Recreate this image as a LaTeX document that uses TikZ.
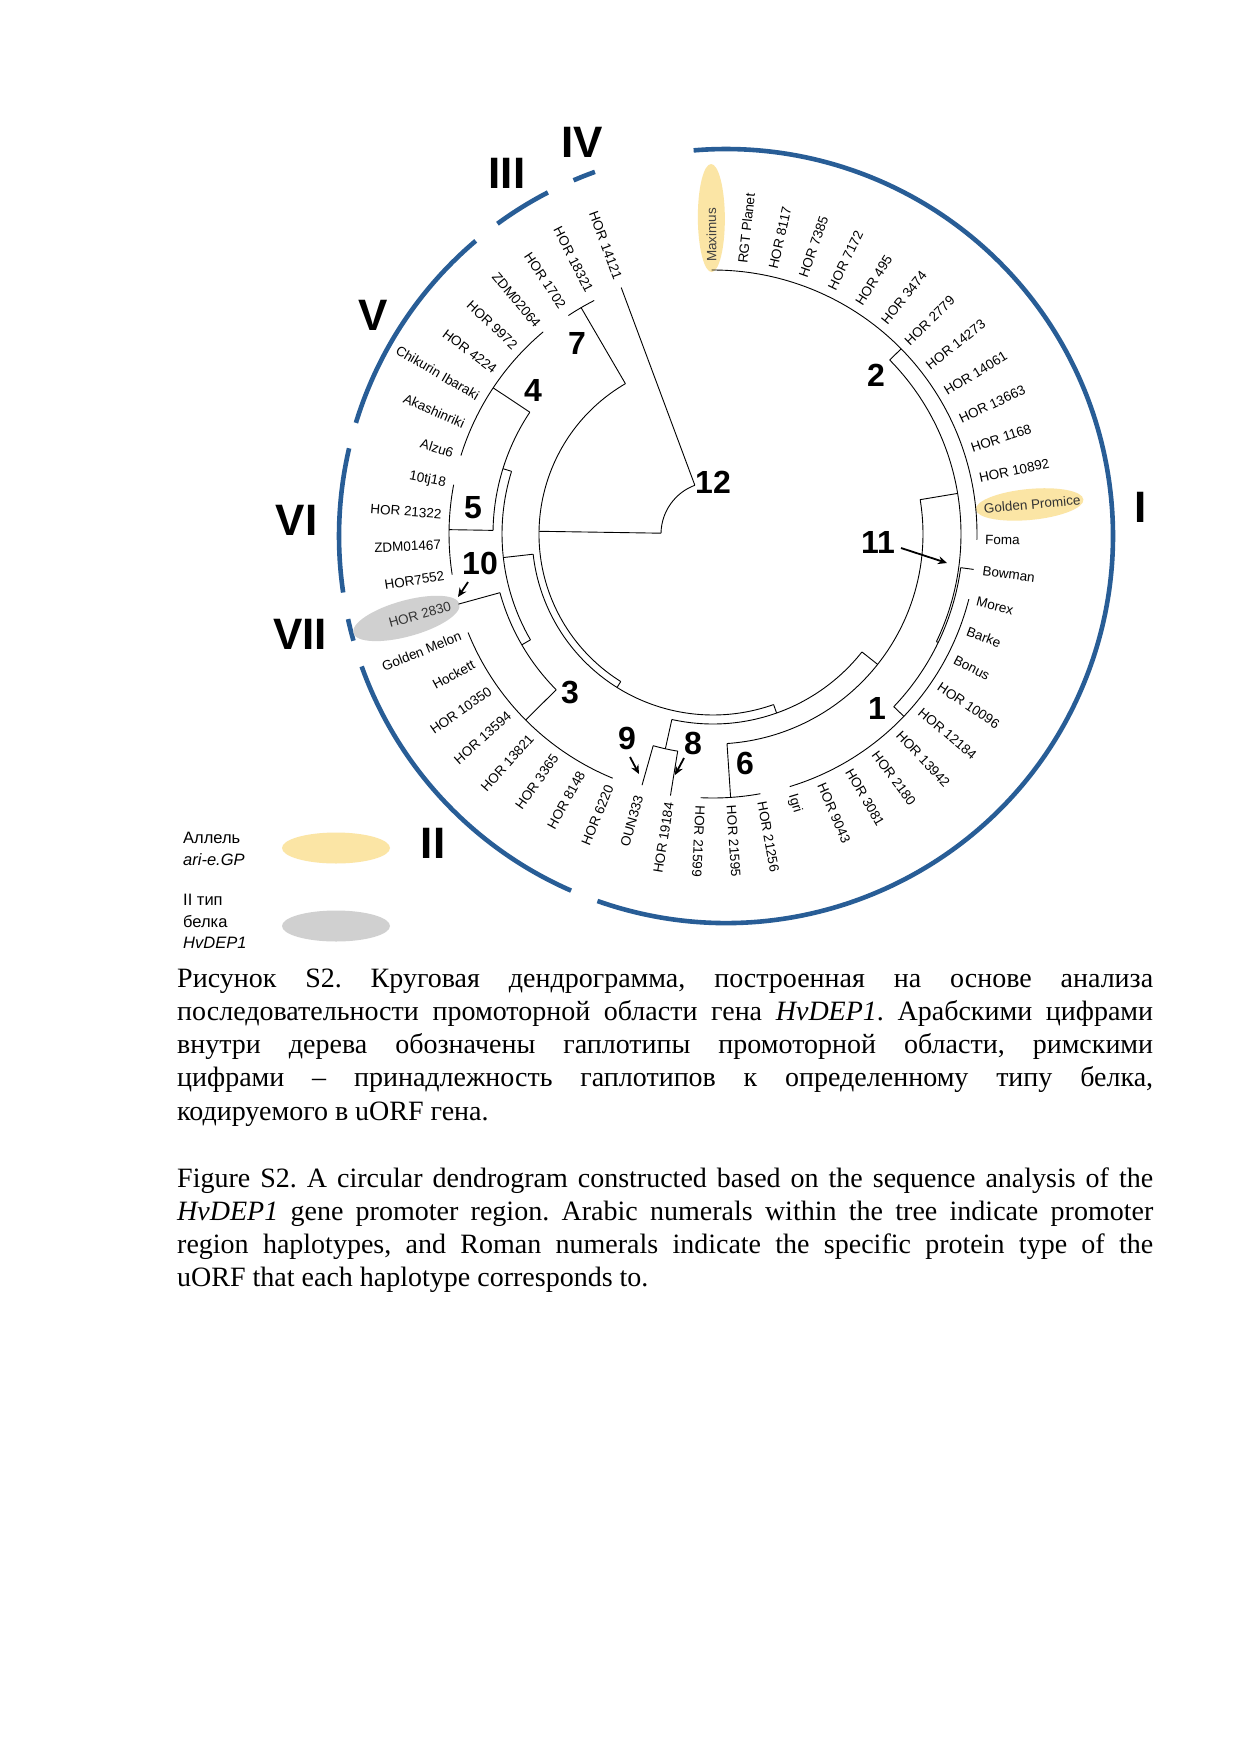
\documentclass[tikz,border=0pt]{standalone}
\usepackage{fontspec}
\setmainfont{Liberation Serif}
\setsansfont{Liberation Sans}
\newfontfamily\capf{Liberation Serif}
\usetikzlibrary{shapes.geometric,arrows.meta}
\definecolor{obl}{RGB}{40,93,150}
\definecolor{hly}{RGB}{251,229,165}
\definecolor{hlg}{RGB}{208,208,208}
\newcommand{\tarc}[3]{\draw[tree] ([shift={(#2:#1)}]C) arc[start angle=#2, end angle=#3, radius=#1];}
\newcommand{\trad}[3]{\draw[tree] ([shift={(#1:#2)}]C) -- ([shift={(#1:#3)}]C);}
\newcommand{\oarc}[2]{\draw[outer] ([shift={(#1:387)}]O) arc[start angle=#1, end angle=#2, radius=387];}
\newcommand{\lR}[3]{\node[lab,anchor=west,rotate=#2] (#1) at ([shift={(#2:271)}]C) {#3};}
\newcommand{\lL}[3]{\node[lab,anchor=east,rotate=#2-180] (#1) at ([shift={(#2:271)}]C) {#3};}
\newcommand{\hapn}[4]{\node[hap] (#1) at (#2,#3) {#4};}
\begin{document}
\begin{tikzpicture}[x=1pt,y=1pt,
  tree/.style={line width=0.9pt,black},
  outer/.style={line width=4.6pt,obl},
  lab/.style={font=\sffamily\fontsize{13.5}{15}\selectfont,inner sep=1pt},
  hap/.style={font=\sffamily\bfseries\fontsize{32}{34}\selectfont,inner sep=0},
  rom/.style={font=\sffamily\bfseries\fontsize{44}{46}\selectfont,inner sep=0},
  leg/.style={font=\sffamily\fontsize{16.5}{18}\selectfont,inner sep=0,anchor=base west},
  arr/.style={line width=1.8pt,-{Stealth[length=9pt,width=8pt]}},
  hl/.style={ellipse,inner sep=0,draw=none}]
\useasboundingbox (0,-1755) rectangle (1241,0);
\fill[white] (0,-1755) rectangle (1241,0);
\coordinate (C) at (713,-534);
\coordinate (O) at (726,-536);
% outer blue arcs
\oarc{-109.4}{94.8}
\oarc{-160.3}{-113.6}
\oarc{-167.6}{-164.3}
\oarc{166.9}{188.4}
\oarc{130.3}{163.0}
\oarc{117.4}{126.2}
\oarc{109.8}{113.2}
% highlight ellipses
\node[hl,fill=hly,minimum width=108pt,minimum height=27pt,rotate=90.3] (eMax) at ([shift={(90.3:316)}]C) {};
\node[hl,fill=hly,minimum width=108pt,minimum height=31pt,rotate=5.33] (eGP) at ([shift={(5.33:318)}]C) {};
\node[hl,fill=hlg,minimum width=110pt,minimum height=36pt,rotate=15.4] (e2830) at ([shift={(195.4:318)}]C) {};
% tree arcs
\tarc{52}{110.43}{179.105}
\tarc{174}{120.23}{237.98}
\tarc{262}{116.96}{123.50}
\tarc{181}{186.41}{289.555}
\tarc{211}{162.72}{210.10}
\tarc{220}{146.38}{179.055}
\tarc{264}{130.04}{162.72}
\tarc{264}{169.25}{188.86}
\tarc{221}{195.40}{224.805}
\tarc{264}{201.93}{247.68}
\tarc{190}{257.49}{321.62}
\tarc{220}{254.22}{260.76}
\tarc{210}{273.825}{369.4175}
\tarc{264}{267.29}{280.36}
\tarc{248}{-25.715}{44.55}
\tarc{264}{-1.20}{90.30}
\tarc{250}{-43.69}{-7.74}
\tarc{264}{-73.10}{-14.28}
% tree radials
\trad{110.43}{52}{263}
\trad{179.105}{52}{174}
\trad{120.23}{174}{262}
\trad{237.98}{174}{181}
\trad{186.41}{181}{211}
\trad{162.72}{211}{220}
\trad{146.38}{220}{264}
\trad{179.055}{220}{264}
\trad{210.10}{211}{221}
\trad{195.40}{221}{264}
\trad{224.805}{221}{264}
\trad{289.555}{181}{190}
\trad{257.49}{190}{220}
\trad{254.22}{220}{261}
\trad{260.76}{220}{265}
\trad{321.62}{190}{210}
\trad{273.825}{210}{264}
\trad{9.4175}{210}{248}
\trad{44.55}{248}{264}
\trad{-25.715}{248}{250}
\trad{-43.69}{250}{264}
\trad{-7.74}{250}{263}
% leaf labels
\lR{L0}{90.30}{\textcolor{black!75}{Maximus}}
\lR{L1}{83.76}{RGT Planet}
\lR{L2}{77.23}{HOR 8117}
\lR{L3}{70.69}{HOR 7385}
\lR{L4}{64.16}{HOR 7172}
\lR{L5}{57.62}{HOR 495}
\lR{L6}{51.08}{HOR 3474}
\lR{L7}{44.55}{HOR 2779}
\lR{L8}{38.01}{HOR 14273}
\lR{L9}{31.48}{HOR 14061}
\lR{L10}{24.94}{HOR 13663}
\lR{L11}{18.40}{HOR 1168}
\lR{L12}{11.87}{HOR 10892}
\lR{L13}{5.33}{\textcolor{black!80}{Golden Promice}}
\lR{L14}{-1.20}{Foma}
\lR{L15}{-7.74}{Bowman}
\lR{L16}{-14.28}{Morex}
\lR{L17}{-20.81}{Barke}
\lR{L18}{-27.35}{Bonus}
\lR{L19}{-33.88}{HOR 10096}
\lR{L20}{-40.42}{HOR 12184}
\lR{L21}{-46.96}{HOR 13942}
\lR{L22}{-53.49}{HOR 2180}
\lR{L23}{-60.03}{HOR 3081}
\lR{L24}{-66.56}{HOR 9043}
\lR{L25}{-73.10}{Igri}
\lR{L26}{-79.64}{HOR 21256}
\lR{L27}{-86.17}{HOR 21595}
\lR{L28}{-92.71}{HOR 21599}
\lL{L29}{260.76}{HOR 19184}
\lL{L30}{254.22}{OUN333}
\lL{L31}{247.68}{HOR 6220}
\lL{L32}{241.15}{HOR 8148}
\lL{L33}{234.61}{HOR 3365}
\lL{L34}{228.08}{HOR 13821}
\lL{L35}{221.54}{HOR 13594}
\lL{L36}{215.00}{HOR 10350}
\lL{L37}{208.47}{Hockett}
\lL{L38}{201.93}{Golden Melon}
\lL{L39}{195.40}{\textcolor{black!80}{HOR 2830}}
\lL{L40}{188.86}{HOR7552}
\lL{L41}{182.32}{ZDM01467}
\lL{L42}{175.79}{HOR 21322}
\lL{L43}{169.25}{10tj18}
\lL{L44}{162.72}{Alzu6}
\lL{L45}{156.18}{Akashinriki}
\lL{L46}{149.64}{Chikurin Ibaraki}
\lL{L47}{143.11}{HOR 4224}
\lL{L48}{136.57}{HOR 9972}
\lL{L49}{130.04}{ZDM02064}
\lL{L50}{123.50}{HOR 1702}
\lL{L51}{116.96}{HOR 18321}
\lL{L52}{110.43}{HOR 14121}
% haplotype numbers
\hapn{h12}{713}{-482}{12}
\hapn{h7}{577}{-343}{7}
\hapn{h4}{533}{-390}{4}
\hapn{h2}{876}{-375}{2}
\hapn{h5}{473}{-508}{5}
\hapn{h10}{480}{-563}{10}
\hapn{h3}{570}{-693}{3}
\hapn{h11}{878}{-542}{11}
\hapn{h1}{877}{-708}{1}
\hapn{h9}{627}{-738}{9}
\hapn{h8}{693}{-743}{8}
\hapn{h6}{745}{-763}{6}
% arrows
\coordinate (a11s) at (901,-548); \coordinate (a11e) at (947,-563);
\coordinate (a10s) at (468,-582); \coordinate (a10e) at (458,-597);
\coordinate (a9s) at (630,-757); \coordinate (a9e) at (639,-774);
\coordinate (a8s) at (684,-758); \coordinate (a8e) at (675,-775);
\draw[arr] (a11s) -- (a11e);
\draw[arr] (a10s) -- (a10e);
\draw[arr] (a9s) -- (a9e);
\draw[arr] (a8s) -- (a8e);
% roman numerals
\node[rom] (rIV) at (582,-142) {IV};
\node[rom] (rIII) at (507,-173) {III};
\node[rom] (rV) at (373,-315) {V};
\node[rom] (rVI) at (296.5,-520) {VI};
\node[rom] (rVII) at (300,-634) {VII};
\node[rom] (rII) at (433,-843) {II};
\node[rom] (rI) at (1141,-507) {I};
% legend
\node[leg] (lg1) at (183,-843) {Аллель};
\node[leg] (lg2) at (183,-865) {\itshape ari-e.GP};
\node[hl,fill=hly,minimum width=108pt,minimum height=31pt] (lgY) at (336,-848) {};
\node[leg] (lg3) at (183,-905) {II тип};
\node[leg] (lg4) at (183,-927) {белка};
\node[leg] (lg5) at (183,-948) {\itshape HvDEP1};
\node[hl,fill=hlg,minimum width=108pt,minimum height=31pt] (lgG) at (336,-926) {};
% captions
\node[anchor=base west,inner sep=0] (capru) at (177,-987) {\parbox[t]{976pt}{\frenchspacing\capf\fontsize{28}{33.3}\selectfont Рисунок S2. Круговая дендрограмма, построенная на основе анализа\linebreak последовательности промоторной области гена \textit{HvDEP1}. Арабскими цифрами\linebreak внутри дерева обозначены гаплотипы промоторной области, римскими\linebreak цифрами – принадлежность гаплотипов к определенному типу белка,\linebreak кодируемого в uORF гена.}};
\node[anchor=base west,inner sep=0] (capen) at (177,-1187) {\parbox[t]{976pt}{\frenchspacing\capf\fontsize{28}{33.3}\selectfont Figure S2. A circular dendrogram constructed based on the sequence analysis of the\linebreak \textit{HvDEP1} gene promoter region. Arabic numerals within the tree indicate promoter\linebreak region haplotypes, and Roman numerals indicate the specific protein type of the\linebreak uORF that each haplotype corresponds to.}};
\end{tikzpicture}
\end{document}
